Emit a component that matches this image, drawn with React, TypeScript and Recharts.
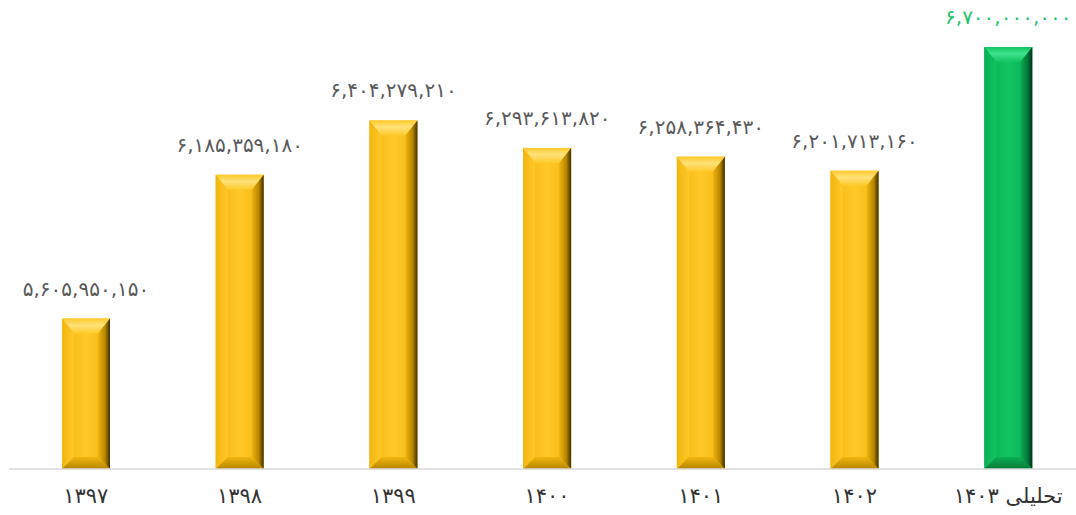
import { BarChart, Bar, XAxis, YAxis, Cell, LabelList } from "recharts";

const years = ["۱۳۹۷", "۱۳۹۸", "۱۳۹۹", "۱۴۰۰", "۱۴۰۱", "۱۴۰۲", "تحلیلی ۱۴۰۳"];
const amounts = [
  5605950150, 6185359180, 6404279210, 6293613820, 6258364430, 6201713160,
  6700000000,
];
const kinds = ["gold", "gold", "gold", "gold", "gold", "gold", "green"];

const chartData = years.map((year, i) => ({
  year,
  amount: amounts[i],
  kind: kinds[i],
}));

const PALETTE: Record<string, { label: string }> = {
  gold: { label: "#595959" },
  green: { label: "#1fc46a" },
};

const FONT = "'DejaVu Sans', 'Noto Sans', sans-serif";

// اعداد فارسی با جداکننده هزارگان
function toPersian(n: number) {
  return n
    .toLocaleString("en-US")
    .replace(/\d/g, (d) => String.fromCharCode(0x06f0 + Number(d)));
}

function BevelBar(props: any) {
  const { x, y, width: w, height: h, payload } = props;
  if (!w || !h) return null;
  const k = payload.kind;
  const b = Math.min(12, w / 4, h / 3);
  const t = Math.min(15, h / 3);
  const pts = (arr: number[][]) => arr.map((p) => p.join(",")).join(" ");
  return (
    <g>
      <rect x={x} y={y} width={w} height={h} fill={`url(#${k}-face)`} />
      <polygon
        points={pts([[x, y], [x + w, y], [x + w - b, y + t], [x + b, y + t]])}
        fill={`url(#${k}-top)`}
      />
      <polygon
        points={pts([[x, y], [x + b, y + t], [x + b, y + h - b], [x, y + h]])}
        fill={`url(#${k}-left)`}
      />
      <polygon
        points={pts([[x + w, y], [x + w, y + h], [x + w - b, y + h - b], [x + w - b, y + t]])}
        fill={`url(#${k}-right)`}
      />
      <polygon
        points={pts([[x, y + h], [x + b, y + h - b], [x + w - b, y + h - b], [x + w, y + h]])}
        fill={`url(#${k}-bottom)`}
      />
    </g>
  );
}

function ValueLabel(props: any) {
  const { x, y, width, value, index } = props;
  const k = kinds[index];
  return (
    <text
      x={x + width / 2}
      y={y - 23}
      textAnchor="middle"
      fill={PALETTE[k].label}
      fontSize={20}
      fontFamily={FONT}
    >
      {toPersian(value)}
    </text>
  );
}

function Gradients({ id, light, face, mid, dark, deep }: any) {
  return (
    <>
      <linearGradient id={`${id}-face`} x1="0" y1="0" x2="1" y2="0">
        <stop offset="0%" stopColor={mid} />
        <stop offset="50%" stopColor={face} />
        <stop offset="100%" stopColor={mid} />
      </linearGradient>
      <linearGradient id={`${id}-top`} x1="0" y1="0" x2="0" y2="1">
        <stop offset="0%" stopColor={face} />
        <stop offset="45%" stopColor={light} />
        <stop offset="100%" stopColor={face} />
      </linearGradient>
      <linearGradient id={`${id}-left`} x1="0" y1="0" x2="1" y2="0">
        <stop offset="0%" stopColor={mid} />
        <stop offset="100%" stopColor={face} />
      </linearGradient>
      <linearGradient id={`${id}-right`} x1="0" y1="0" x2="1" y2="0">
        <stop offset="0%" stopColor={mid} />
        <stop offset="60%" stopColor={dark} />
        <stop offset="100%" stopColor={deep} />
      </linearGradient>
      <linearGradient id={`${id}-bottom`} x1="0" y1="0" x2="0" y2="1">
        <stop offset="0%" stopColor={mid} />
        <stop offset="100%" stopColor={dark} />
      </linearGradient>
    </>
  );
}

export default function App() {
  return (
    <div
      style={{
        position: "absolute",
        left: 0,
        top: 0,
        width: 1076,
        height: 515,
        overflow: "hidden",
        background: "#fff",
      }}
    >
      <BarChart
        width={1086}
        height={515}
        data={chartData}
        margin={{ top: 47, right: 1, bottom: 0, left: 9 }}
      >
        <defs>
          <Gradients
            id="gold"
            light="#ffe27a"
            face="#ffc929"
            mid="#f2b50f"
            dark="#b58600"
            deep="#3e2e00"
          />
          <Gradients
            id="green"
            light="#3ee28a"
            face="#11c462"
            mid="#0bae53"
            dark="#067a38"
            deep="#02301a"
          />
        </defs>
        <YAxis hide domain={[5000000000, 6700000000]} allowDataOverflow />
        <XAxis
          dataKey="year"
          height={46}
          tickLine={false}
          axisLine={{ stroke: "#d9d9d9", strokeWidth: 1.5 }}
          tickMargin={13}
          tick={{ fill: "#333", fontSize: 21, fontFamily: FONT }}
          interval={0}
        />
        <Bar
          dataKey="amount"
          barSize={48}
          isAnimationActive={false}
          shape={<BevelBar />}
        >
          {chartData.map((d) => (
            <Cell key={d.year} fill={d.kind} />
          ))}
          <LabelList dataKey="amount" content={<ValueLabel />} />
        </Bar>
      </BarChart>
    </div>
  );
}
